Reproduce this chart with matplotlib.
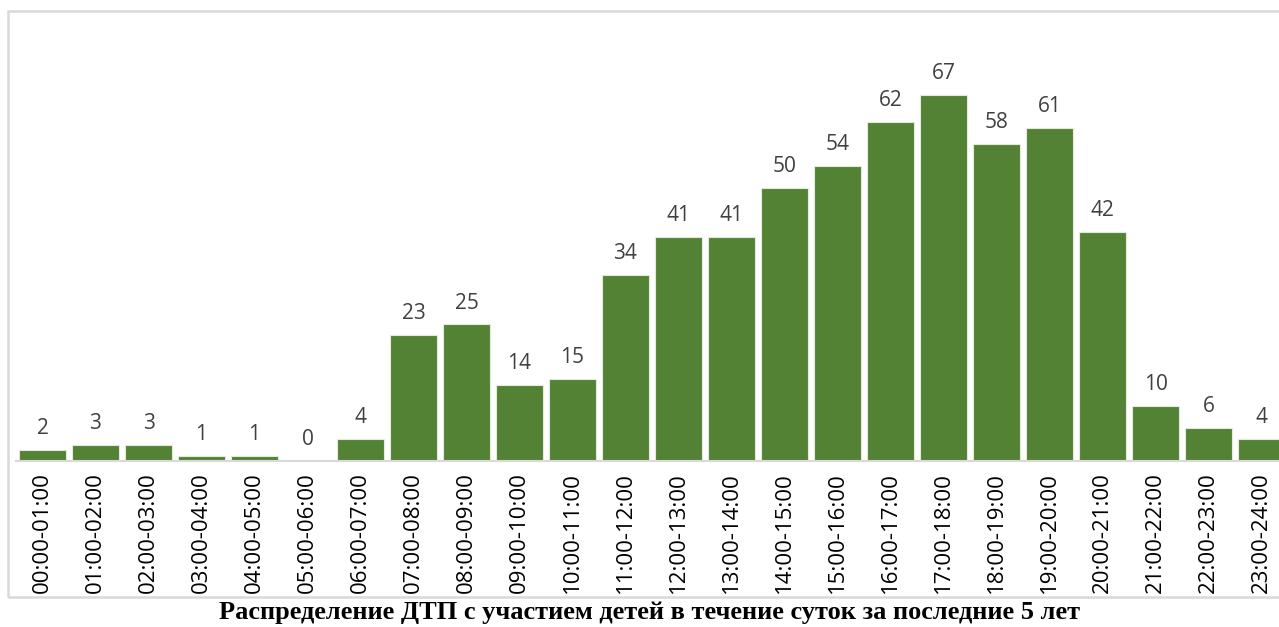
import numpy as np
import matplotlib.pyplot as plt
from matplotlib.patches import Rectangle

# hourly intervals and number of accidents
hours = ['%02d:00-%02d:00' % (h, h + 1) for h in range(24)]
counts = [2, 3, 3, 1, 1, 0, 4, 23, 25, 14, 15, 34, 41, 41, 50, 54, 62, 67, 58, 61, 42, 10, 6, 4]
title = 'Распределение ДТП с участием детей в течение суток за последние 5 лет'

W, H = 1279, 627
fig = plt.figure(figsize=(W / 100, H / 100), dpi=100)

# plot area: baseline at y=461px, top at y=24px, bars start at x~16px
left, right, top, bottom = 16, 16 + 53 * 24, 24, 461
ax = fig.add_axes([left / W, 1 - bottom / H, (right - left) / W, (bottom - top) / H])

x = np.arange(len(hours))
bars = ax.bar(x, counts, width=0.89, color='#548235', edgecolor='#e2eadb', linewidth=0.8)
for xi, v in zip(x, counts):
    ax.text(xi, v + 2.0, str(v), ha='center', va='bottom', fontsize=15,
            color='#404040', family=['Open Sans', 'DejaVu Sans'])

ax.set_xlim(-0.5, len(hours) - 0.5)
ax.set_ylim(0, 80)
ax.set_yticks([])
ax.set_xticks(x)
ax.set_xticklabels(hours, rotation=90, fontsize=16, family=['Open Sans', 'DejaVu Sans'])
ax.tick_params(axis='x', length=0, pad=8)
for s in ['top', 'right', 'left']:
    ax.spines[s].set_visible(False)
ax.spines['bottom'].set_color('#d9d9d9')
ax.spines['bottom'].set_linewidth(1.5)

# outer chart border
fig.patches.append(Rectangle((8 / W, 1 - 597 / H), 1300 / W, (597 - 11) / H,
                             transform=fig.transFigure, fill=False,
                             edgecolor='#d9d9d9', linewidth=1.8))

fig.text(650 / W, 1 - 613 / H, title, ha='center', va='center', fontsize=19,
         fontweight='bold', family=['Liberation Serif', 'DejaVu Serif'])

fig.savefig('out.png', dpi=100)
